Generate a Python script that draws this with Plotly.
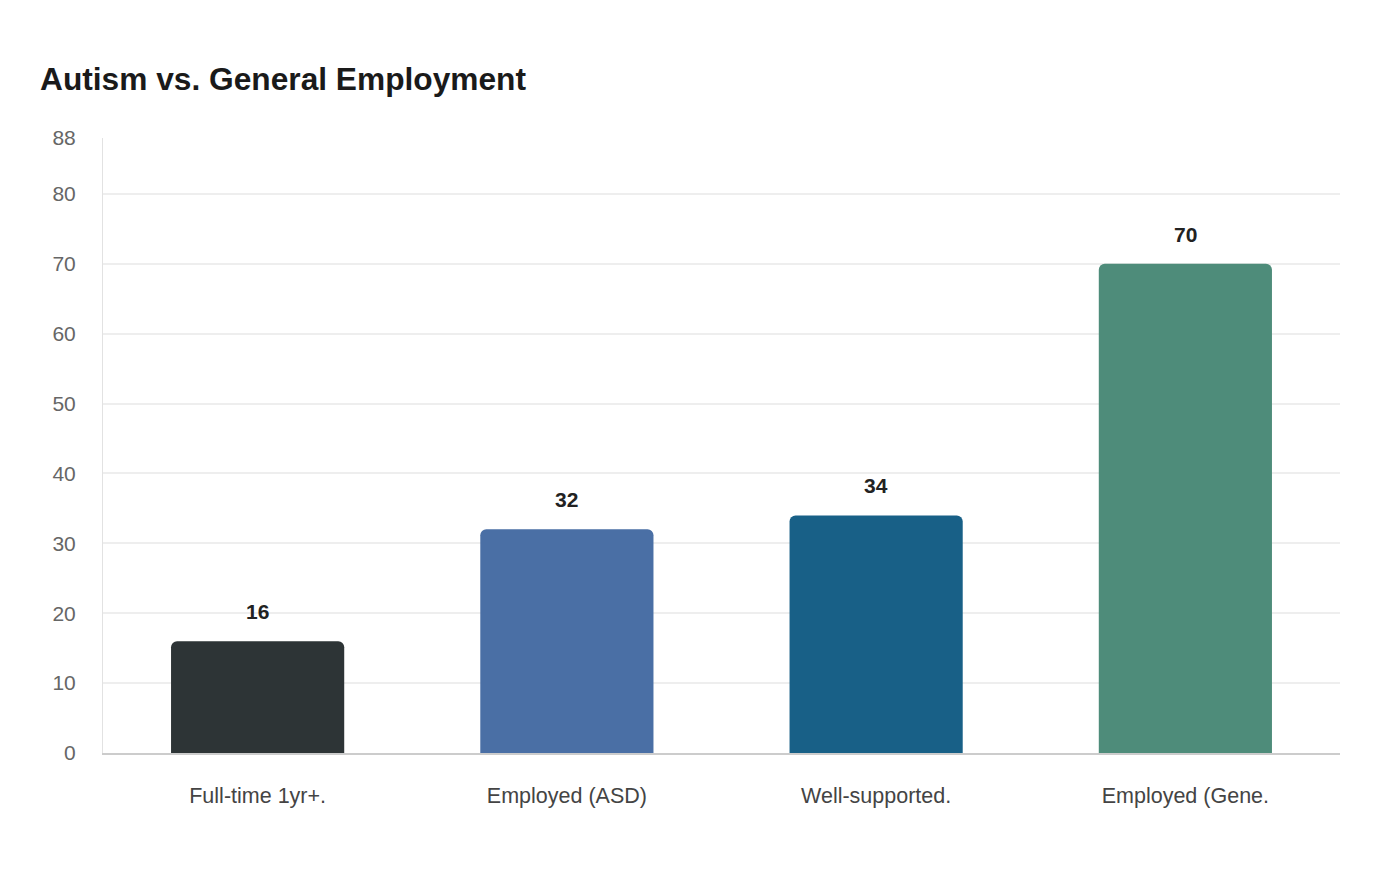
import plotly.graph_objects as go

# 데이터
categories = ["Full-time 1yr+.", "Employed (ASD)", "Well-supported.", "Employed (Gene."]
values = [16, 32, 34, 70]
bar_colors = ["#2d3436", "#4a6fa5", "#186087", "#4e8c7a"]
y_ticks = [0, 10, 20, 30, 40, 50, 60, 70, 80, 88]

fig = go.Figure()

fig.add_trace(go.Bar(
    x=categories,
    y=values,
    marker=dict(color=bar_colors, cornerradius=6, line=dict(width=0)),
    hoverinfo="x+y",
    showlegend=False,
))

# 막대 위 값 라벨
for cat, val in zip(categories, values):
    fig.add_annotation(
        x=cat, y=val, text="<b>" + str(val) + "</b>",
        showarrow=False, yanchor="bottom", yshift=16,
        font=dict(family="Liberation Sans, Arial", size=21, color="#222222"),
    )

fig.update_layout(
    width=1400,
    height=880,
    title=dict(
        text="<b>Autism vs. General Employment</b>",
        x=32 / 1400, xanchor="left", xref="container",
        y=1 - 71 / 880, yanchor="middle", yref="container",
        font=dict(family="Liberation Sans, Arial", size=31.7, color="#1a1a1a"),
    ),
    bargap=0.44,
    plot_bgcolor="white",
    paper_bgcolor="white",
    margin=dict(l=95, r=68, t=130, b=135),
    font=dict(family="Liberation Sans, Arial", color="#666666"),
)

fig.update_xaxes(
    showgrid=False,
    showline=True,
    linecolor="#cccccc",
    linewidth=2,
    ticks="",
    ticklabelstandoff=22,
    tickfont=dict(family="Liberation Sans, Arial", size=21.5, color="#444444"),
)

fig.update_yaxes(
    range=[0, 88],
    tickvals=y_ticks,
    showgrid=True,
    gridcolor="#eeeeee",
    gridwidth=1.5,
    zeroline=False,
    showline=True,
    linecolor="#e2e2e2",
    linewidth=1,
    ticks="",
    ticklabelstandoff=22,
    tickfont=dict(family="Liberation Sans, Arial", size=21, color="#666666"),
)

fig.write_html("out.html")
